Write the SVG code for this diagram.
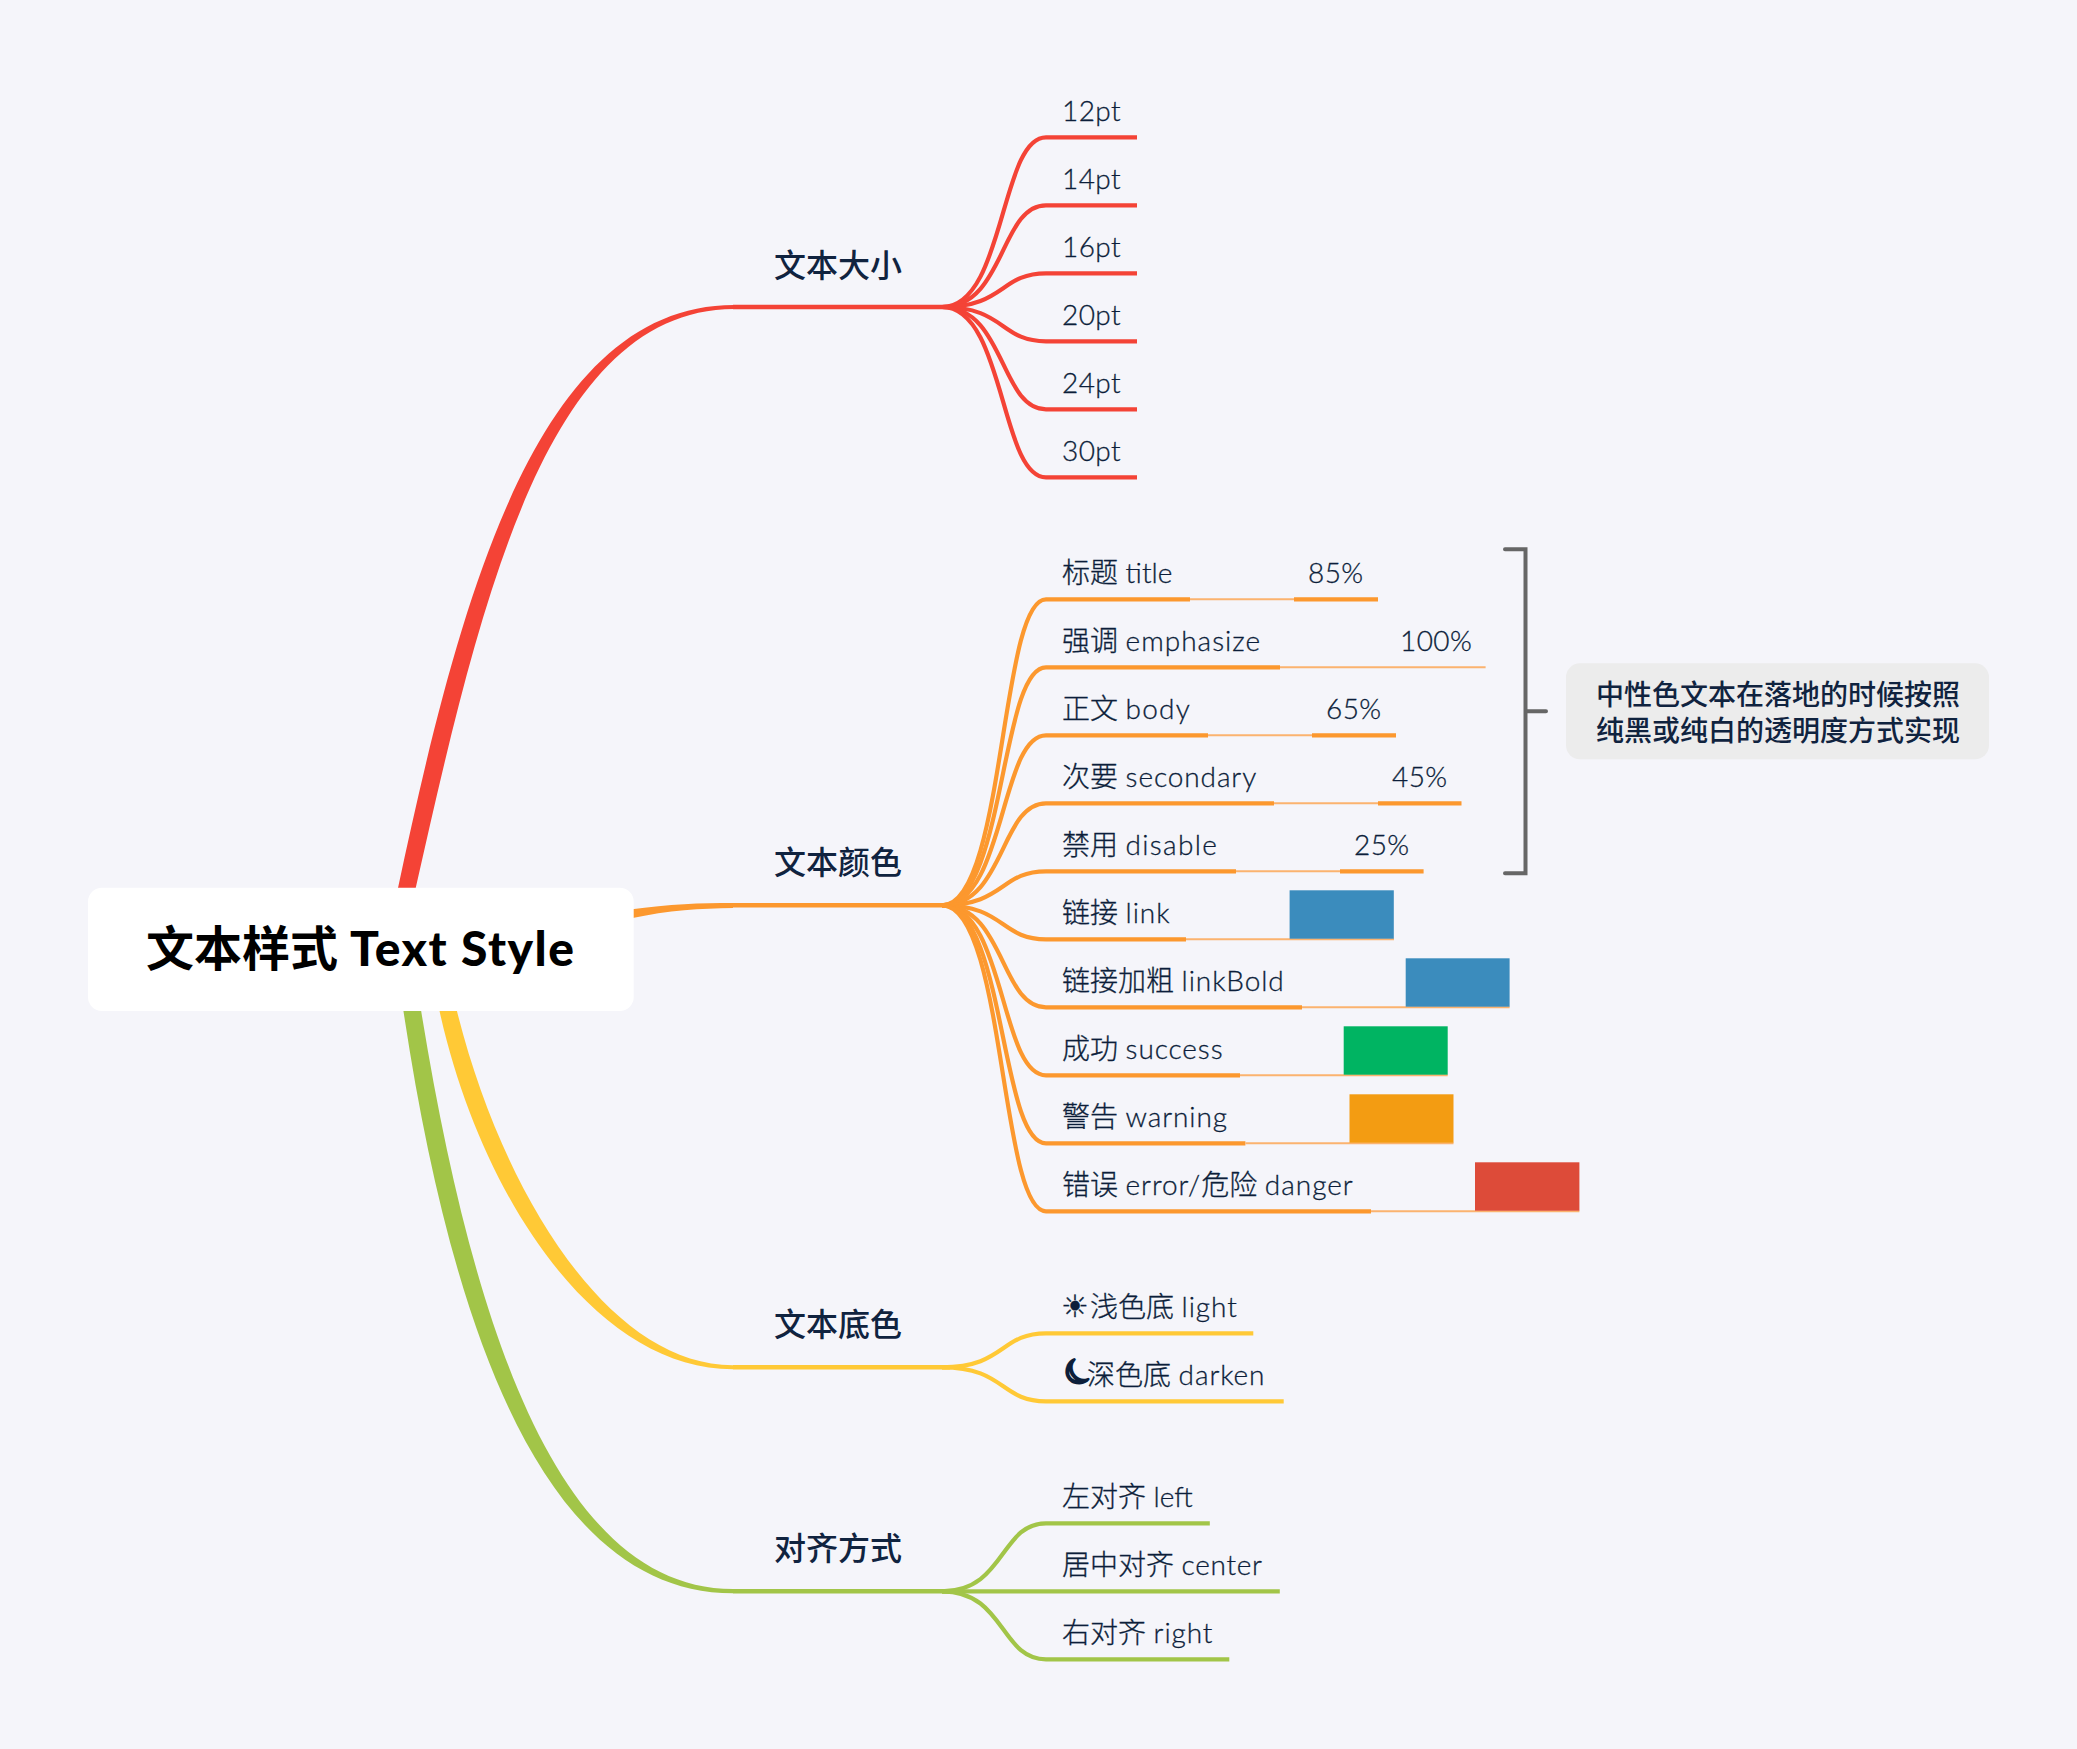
<svg xmlns="http://www.w3.org/2000/svg" width="2077" height="1749" viewBox="0 0 2077 1749">
<style>
text{font-family:Lato,"Noto Sans CJK SC","Noto Sans",sans-serif;fill:#10233f}
.leaf{font-size:28px;font-weight:300;fill:#0c1e3a;stroke:#0c1e3a;stroke-width:.3}
.l{letter-spacing:.9px}
.n{letter-spacing:.4px}
.br{font-size:32px;font-weight:500}
.root{font-size:48px;font-weight:700;fill:#000}
.rl{font-weight:900}
.note{font-size:28px;font-weight:500}
.sym{font-family:"DejaVu Sans",sans-serif;font-size:31px}
.moon{font-family:"DejaVu Sans",sans-serif;font-size:34px;fill:#0c1e3a;stroke:#0c1e3a;stroke-width:2.6;stroke-linejoin:round}
.c{fill:none;stroke-width:4.2}
.m{fill:none;stroke-width:4.4}
.th{fill:none;stroke-width:2;stroke:#fbb36f}
.r{stroke:#f44336}.o{stroke:#fc982e}.y{stroke:#ffc936}.g{stroke:#a2c548}
</style>
<rect width="2077" height="1749" fill="#f5f5fa"/>
<g id="connectors">
<path fill="#f44336" d="M398 888C460 597 537 305 734 305V309C546 309.5 480 603 415.7 888Z"/>
<path fill="#fc982e" d="M630 909.5C670 904 700 903 733 903V908C700 908.5 670 910 630 918.5Z"/>
<path fill="#ffc936" d="M456.7 1010C500 1185 605 1365.2 733 1365.2V1369.3C594 1369.3 480 1195 439.3 1010Z"/>
<path fill="#a2c548" d="M421 1010C472 1325 558 1589 733 1589V1593.3C546 1593.3 452 1335 403.3 1010Z"/>
<path class="m r" d="M733 307H950"/><path class="m o" d="M733 905.3H950"/><path class="m y" d="M733 1367.3H950"/><path class="m g" d="M733 1591.3H950"/>
<g class="c r">
<path d="M942 307C1005 307 1000 137.3 1046 137.3H1137"/>
<path d="M942 307C1005 307 1000 205.3 1046 205.3H1137"/>
<path d="M942 307C1005 307 1000 273.3 1046 273.3H1137"/>
<path d="M942 307C1005 307 1000 341.3 1046 341.3H1137"/>
<path d="M942 307C1005 307 1000 409.3 1046 409.3H1137"/>
<path d="M942 307C1005 307 1000 477.3 1046 477.3H1137"/>
</g>
<g class="c o">
<path d="M942 905.3C1005 905.3 1000 599.3 1046 599.3H1190M1294 599.3H1378"/>
<path d="M942 905.3C1005 905.3 1000 667.3 1046 667.3H1280"/>
<path d="M942 905.3C1005 905.3 1000 735.3 1046 735.3H1208M1312 735.3H1396"/>
<path d="M942 905.3C1005 905.3 1000 803.3 1046 803.3H1274M1378 803.3H1461.5"/>
<path d="M942 905.3C1005 905.3 1000 871.3 1046 871.3H1236M1340 871.3H1423.6"/>
<path d="M942 905.3C1005 905.3 1000 939.3 1046 939.3H1186"/>
<path d="M942 905.3C1005 905.3 1000 1007.3 1046 1007.3H1302"/>
<path d="M942 905.3C1005 905.3 1000 1075.3 1046 1075.3H1240"/>
<path d="M942 905.3C1005 905.3 1000 1143.3 1046 1143.3H1245.4"/>
<path d="M942 905.3C1005 905.3 1000 1211.3 1046 1211.3H1371"/>
</g>
<g class="th">
<path d="M1190 599.3H1294M1280 667.3H1485.6M1208 735.3H1312M1274 803.3H1378M1236 871.3H1340"/>
<path d="M1186 939.3H1394M1302 1007.3H1509.6M1240 1075.3H1447.7M1245.4 1143.3H1453.5M1371 1211.3H1579.4"/>
</g>
<g class="c y">
<path d="M942 1367.3C1005 1367.3 1000 1333.3 1046 1333.3H1253.3"/>
<path d="M942 1367.3C1005 1367.3 1000 1401.3 1046 1401.3H1283.7"/>
</g>
<g class="c g">
<path d="M942 1591.3C1005 1591.3 1000 1523.3 1046 1523.3H1209.8"/>
<path d="M942 1591.3H1279.8"/>
<path d="M942 1591.3C1005 1591.3 1000 1659.3 1046 1659.3H1229.3"/>
</g>
<path fill="none" stroke="#666" stroke-width="4" stroke-linecap="round" d="M1505 549.3H1525.5V873.3H1505M1525.5 711.3H1546"/>
</g>
<g id="root"><rect x="88" y="887.7" width="545.7" height="123.3" rx="14" fill="#fff"/><text class="root" x="146" y="966">文本样式 <tspan class="rl" x="350" textLength="224">Text Style</tspan></text></g>
<g id="b1"><text class="br" x="774" y="277">文本大小</text></g>
<g id="b2"><text class="br" x="774" y="874">文本颜色</text></g>
<g id="b3"><text class="br" x="774" y="1336">文本底色</text></g>
<g id="b4"><text class="br" x="774" y="1560">对齐方式</text></g>
<g id="s12"><text class="leaf n" x="1062" y="120.5">12pt</text></g>
<g id="s14"><text class="leaf n" x="1062" y="188.5">14pt</text></g>
<g id="s16"><text class="leaf n" x="1062" y="256.5">16pt</text></g>
<g id="s20"><text class="leaf n" x="1062" y="324.5">20pt</text></g>
<g id="s24"><text class="leaf n" x="1062" y="392.5">24pt</text></g>
<g id="s30"><text class="leaf n" x="1062" y="460.5">30pt</text></g>
<g id="c-title"><text class="leaf" x="1062" y="582.5">标题 <tspan letter-spacing="0">title</tspan></text><text class="leaf n" x="1308" y="582.5">85%</text></g>
<g id="c-emph"><text class="leaf" x="1062" y="650.5">强调 <tspan letter-spacing="1">emphasize</tspan></text><text class="leaf n" x="1400" y="650.5">100%</text></g>
<g id="c-body"><text class="leaf" x="1062" y="718.5">正文 <tspan letter-spacing="1.2">body</tspan></text><text class="leaf n" x="1326" y="718.5">65%</text></g>
<g id="c-sec"><text class="leaf" x="1062" y="786.5">次要 <tspan class="l">secondary</tspan></text><text class="leaf n" x="1392" y="786.5">45%</text></g>
<g id="c-dis"><text class="leaf" x="1062" y="854.5">禁用 <tspan letter-spacing="1.3">disable</tspan></text><text class="leaf n" x="1354" y="854.5">25%</text></g>
<g id="c-link"><text class="leaf" x="1062" y="922.5">链接 <tspan class="l">link</tspan></text><rect x="1289.6" y="890.3" width="104.2" height="48.4" fill="#3b8cbd"/></g>
<g id="c-linkb"><text class="leaf" x="1062" y="990.5">链接加粗 <tspan class="l">linkBold</tspan></text><rect x="1405.7" y="958.3" width="103.9" height="48.4" fill="#3b8cbd"/></g>
<g id="c-succ"><text class="leaf" x="1062" y="1058.5">成功 <tspan class="l">success</tspan></text><rect x="1343.7" y="1026.3" width="104" height="48.4" fill="#00b462"/></g>
<g id="c-warn"><text class="leaf" x="1062" y="1126.5">警告 <tspan class="l">warning</tspan></text><rect x="1349.5" y="1094.3" width="104" height="48.4" fill="#f39c12"/></g>
<g id="c-err"><text class="leaf" x="1062" y="1194.5">错误 <tspan class="l">error/</tspan>危险 <tspan letter-spacing="1">danger</tspan></text><rect x="1475" y="1162.3" width="104.4" height="48.4" fill="#dd4b39"/></g>
<g id="d-light"><text class="leaf" x="1061" y="1317"><tspan class="sym">☀</tspan><tspan x="1090">浅色底 </tspan><tspan class="l">light</tspan></text></g>
<g id="d-dark"><text class="moon" transform="translate(1066 1386) rotate(-35 10 -10)" x="0" y="0">☾</text><text class="leaf" x="1087" y="1385">深色底 <tspan class="l">darken</tspan></text></g>
<g id="a-left"><text class="leaf" x="1062" y="1506.5">左对齐 <tspan letter-spacing="0">left</tspan></text></g>
<g id="a-center"><text class="leaf" x="1062" y="1574.5">居中对齐 <tspan letter-spacing=".7">center</tspan></text></g>
<g id="a-right"><text class="leaf" x="1062" y="1642.5">右对齐 <tspan class="l">right</tspan></text></g>
<g id="note"><rect x="1566" y="663.3" width="423" height="96" rx="14" fill="#ececec"/><text class="note" x="1596" y="705">中性色文本在落地的时候按照</text><text class="note" x="1596" y="741">纯黑或纯白的透明度方式实现</text></g>
</svg>
